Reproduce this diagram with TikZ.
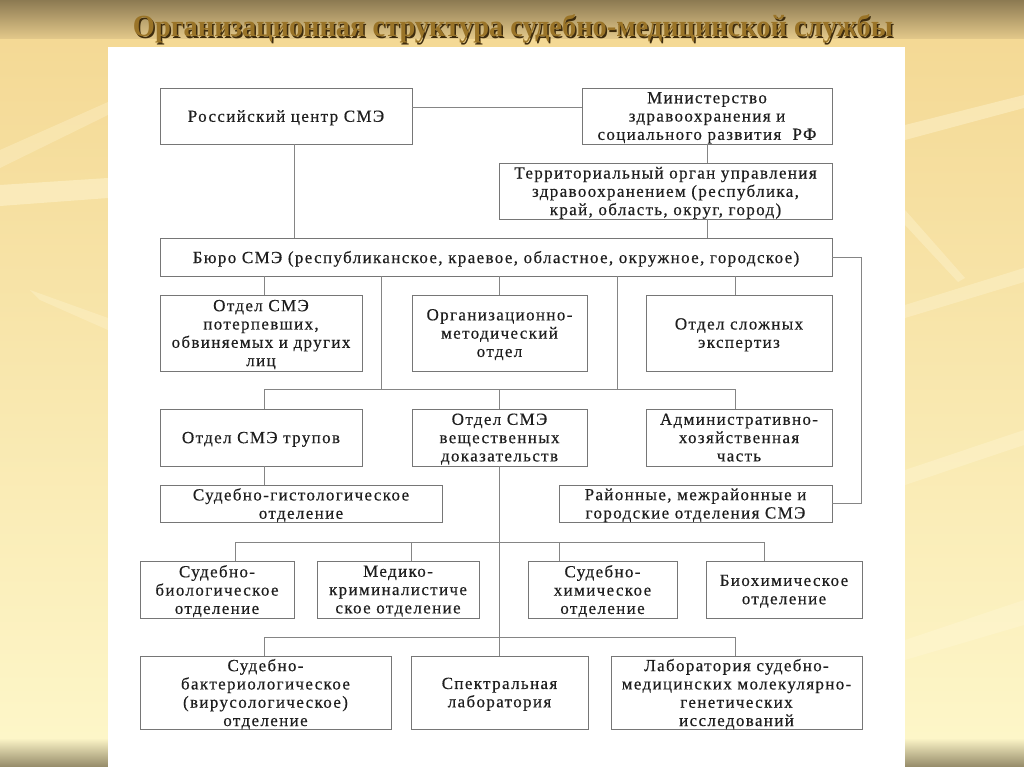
\documentclass[tikz,border=0pt]{standalone}
\usepackage{graphicx}
\usepackage{fontspec}
\setmainfont{Liberation Serif}
\newfontfamily\boxfont[LetterSpace=8, FakeBold=0.4]{Liberation Serif}
\usetikzlibrary{calc}
\definecolor{boxgray}{HTML}{767676}
\definecolor{linegray}{HTML}{858585}
\definecolor{textdark}{HTML}{1E1E1E}
\definecolor{bgtop}{HTML}{8C7A52}
\definecolor{bgband}{HTML}{E6CB8C}
\definecolor{bgmid}{HTML}{F4D995}
\definecolor{bglow}{HTML}{FDF6C8}
\definecolor{bgbottom}{HTML}{948A68}
\definecolor{titlegold}{HTML}{9A7428}
\definecolor{titleshadow}{HTML}{3E2C0E}
\definecolor{streak}{HTML}{FFF8DA}
\begin{document}
\begin{tikzpicture}[x=1pt,y=-1pt,
  box/.style={draw=boxgray, line width=0.9pt, fill=white, inner sep=0pt, align=center,
    text depth=0pt, font=\boxfont\fontsize{17}{18.3}\selectfont, text=textdark},
  conn/.style={draw=linegray, line width=0.8pt}]
\useasboundingbox (0,0) rectangle (1024,767);
% background
\shade[top color=bgtop, bottom color=bgband] (0,0) rectangle (1024,40);
\shade[top color=bgmid, bottom color=bglow] (0,40) rectangle (1024,738);
\shade[top color=bglow, bottom color=bgbottom] (0,738) rectangle (1024,767);
% light streaks
\fill[streak, opacity=0.45] (0,185) -- (108,178) -- (108,198) -- (0,206) -- cycle;
\fill[streak, opacity=0.3] (0,150) -- (108,102) -- (108,115) -- (0,168) -- cycle;
\fill[streak, opacity=0.3] (30,290) -- (108,318) -- (108,330) -- (40,300) -- cycle;
\fill[streak, opacity=0.4] (905,125) -- (1024,95) -- (1024,108) -- (905,140) -- cycle;
\fill[streak, opacity=0.35] (905,305) -- (1024,268) -- (1024,282) -- (905,318) -- cycle;
\fill[streak, opacity=0.35] (905,210) -- (965,278) -- (958,282) -- (905,225) -- cycle;
\fill[streak, opacity=0.35] (905,470) -- (1024,430) -- (1024,445) -- (905,485) -- cycle;
\fill[streak, opacity=0.35] (905,640) -- (1024,600) -- (1024,625) -- (905,660) -- cycle;
% white panel
\fill[white] (108,47) rectangle (905,767);
% title
\node[anchor=base, inner sep=0pt, text=titleshadow] (titleshadow) at (514.5,38.5)
  {\resizebox{760pt}{22pt}{\bfseries Организационная структура судебно-медицинской службы}};
\node[anchor=base, inner sep=0pt, text=titlegold] (title) at (513,37)
  {\resizebox{760pt}{22pt}{\bfseries Организационная структура судебно-медицинской службы}};
% boxes
\node[box, minimum width=252pt, minimum height=56pt] (rc) at (286,116) {Российский центр СМЭ};
\node[box, minimum width=250pt, minimum height=56pt] (min) at (707,116) {Министерство\\здравоохранения и\\социального развития~ РФ};
\node[box, minimum width=333pt, minimum height=56pt] (terr) at (665.5,191) {Территориальный орган управления\\здравоохранением (республика,\\край, область, округ, город)};
\node[box, minimum width=672pt, minimum height=38pt] (bureau) at (496,257) {Бюро СМЭ (республиканское, краевое, областное, окружное, городское)};
\node[box, minimum width=202pt, minimum height=76pt] (a1) at (261,333) {Отдел СМЭ\\потерпевших,\\обвиняемых и других\\лиц};
\node[box, minimum width=175pt, minimum height=76pt] (a2) at (499.5,333) {Организационно-\\методический\\отдел};
\node[box, minimum width=186pt, minimum height=76pt] (a3) at (739,333) {Отдел сложных\\экспертиз};
\node[box, minimum width=202pt, minimum height=57pt] (b1) at (261,437.5) {Отдел СМЭ трупов};
\node[box, minimum width=175pt, minimum height=57pt] (b2) at (499.5,437.5) {Отдел СМЭ\\вещественных\\доказательств};
\node[box, minimum width=186pt, minimum height=57pt] (b3) at (739,437.5) {Административно-\\хозяйственная\\часть};
\node[box, minimum width=282pt, minimum height=37pt] (histo) at (301,503.5) {Судебно-гистологическое\\отделение};
\node[box, minimum width=273pt, minimum height=37pt] (rayon) at (695.5,503.5) {Районные, межрайонные и\\городские отделения СМЭ};
\node[box, minimum width=154pt, minimum height=57pt] (c1) at (217,589.5) {Судебно-\\биологическое\\отделение};
\node[box, minimum width=162pt, minimum height=57pt] (c2) at (398,589.5) {Медико-\\криминалистиче\\ское отделение};
\node[box, minimum width=149pt, minimum height=57pt] (c3) at (602.5,589.5) {Судебно-\\химическое\\отделение};
\node[box, minimum width=156pt, minimum height=57pt] (c4) at (784,589.5) {Биохимическое\\отделение};
\node[box, minimum width=251pt, minimum height=73pt] (d1) at (265.5,692.5) {Судебно-\\бактериологическое\\(вирусологическое)\\отделение};
\node[box, minimum width=177pt, minimum height=73pt] (d2) at (499.5,692.5) {Спектральная\\лаборатория};
\node[box, minimum width=251pt, minimum height=73pt] (d3) at (736.5,692.5) {Лаборатория судебно-\\медицинских молекулярно-\\генетических\\исследований};
% helper coordinates
\coordinate (xA) at (264,0);
\coordinate (xB) at (381,0);
\coordinate (xC) at (499,0);
\coordinate (xD) at (617,0);
\coordinate (xE) at (735,0);
\coordinate (xR) at (294,0);
\coordinate (xRR) at (861,0);
\coordinate (xc1) at (235,0);
\coordinate (xc2) at (411,0);
\coordinate (xc3) at (559,0);
\coordinate (xc4) at (764,0);
\coordinate (yAB) at (0,389);
\coordinate (yC) at (0,542);
\coordinate (yD) at (0,637);
% connectors
\draw[conn] ([yshift=9pt]rc.east) -- ([yshift=9pt]min.west);
\draw[conn] (min.south) -- (terr.north -| min.south);
\draw[conn] (terr.south -| min.south) -- (bureau.north -| min.south);
\draw[conn] (rc.south -| xR) -- (bureau.north -| xR);
\draw[conn] (bureau.east) -- (bureau.east -| xRR) |- (rayon.east);
\draw[conn] (bureau.south -| xA) -- (a1.north -| xA);
\draw[conn] (bureau.south -| xB) -- (yAB -| xB);
\draw[conn] (bureau.south -| xC) -- (a2.north -| xC);
\draw[conn] (bureau.south -| xD) -- (yAB -| xD);
\draw[conn] (bureau.south -| xE) -- (a3.north -| xE);
\draw[conn] (yAB -| xA) -- (yAB -| xE);
\draw[conn] (yAB -| xA) -- (b1.north -| xA);
\draw[conn] (yAB -| xC) -- (b2.north -| xC);
\draw[conn] (yAB -| xE) -- (b3.north -| xE);
\draw[conn] (b1.south -| xA) -- (histo.north -| xA);
\draw[conn] (b2.south -| xC) -- (d2.north -| xC);
\draw[conn] (yC -| xc1) -- (yC -| xc4);
\draw[conn] (yC -| xc1) -- (c1.north -| xc1);
\draw[conn] (yC -| xc2) -- (c2.north -| xc2);
\draw[conn] (yC -| xc3) -- (c3.north -| xc3);
\draw[conn] (yC -| xc4) -- (c4.north -| xc4);
\draw[conn] (yD -| xA) -- (yD -| xE);
\draw[conn] (yD -| xA) -- (d1.north -| xA);
\draw[conn] (yD -| xE) -- (d3.north -| xE);
\end{tikzpicture}
\end{document}
